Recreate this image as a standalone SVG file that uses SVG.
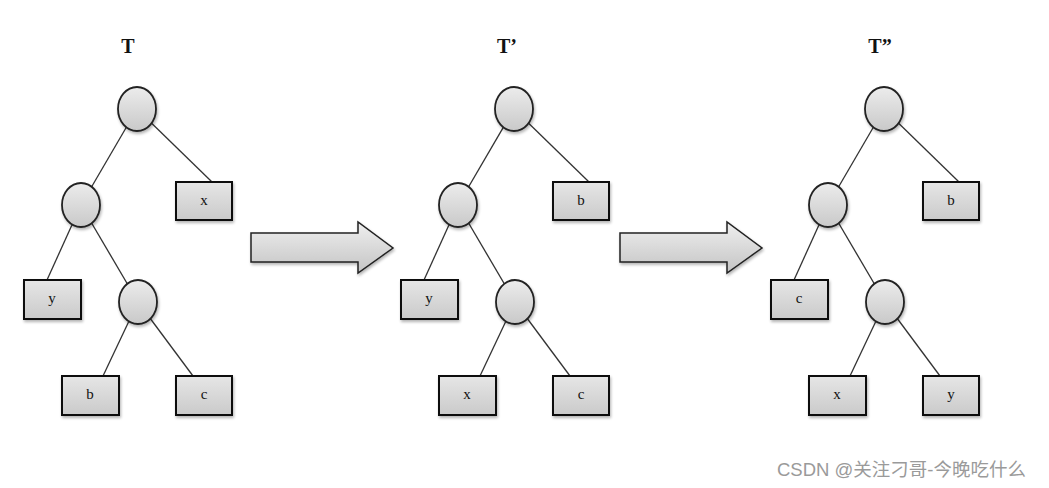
<svg xmlns="http://www.w3.org/2000/svg" width="1049" height="488" viewBox="0 0 1049 488">
<defs>
<linearGradient id="gc" x1="0" y1="0" x2="0" y2="1">
<stop offset="0" stop-color="#ececec"/><stop offset="1" stop-color="#c9c9c9"/>
</linearGradient>
<linearGradient id="gb" x1="0" y1="0" x2="0" y2="1">
<stop offset="0" stop-color="#e6e6e6"/><stop offset="1" stop-color="#cacaca"/>
</linearGradient>
<linearGradient id="ga" x1="0" y1="0" x2="0" y2="1">
<stop offset="0" stop-color="#efefef"/><stop offset="1" stop-color="#c4c4c4"/>
</linearGradient>
<filter id="sh" x="-20%" y="-20%" width="150%" height="150%">
<feGaussianBlur in="SourceAlpha" stdDeviation="1.5"/><feOffset dx="1" dy="2" result="b"/>
<feComponentTransfer><feFuncA type="linear" slope="0.3"/></feComponentTransfer>
<feMerge><feMergeNode/><feMergeNode in="SourceGraphic"/></feMerge>
</filter>
</defs>
<style>
.e{stroke:#333;stroke-width:1.3;fill:none}
.c{fill:url(#gc);stroke:#222;stroke-width:1.8;filter:url(#sh)}
.b{fill:url(#gb);stroke:#111;stroke-width:2;filter:url(#sh)}
.l{font-family:"Liberation Serif",serif;font-size:15px;fill:#111;text-anchor:middle}
.t{font-family:"Liberation Serif",serif;font-size:20px;font-weight:bold;fill:#111;text-anchor:middle}
.a{fill:url(#ga);stroke:#222;stroke-width:1.5;filter:url(#sh)}
.w{font-family:"Liberation Sans","Noto Sans CJK SC",sans-serif;font-size:18.5px;fill:#9a9a9a}
</style>
<g id="titles">
<text class="t" x="128" y="53">T</text>
<text class="t" x="507" y="53">T’</text>
<text class="t" x="880" y="53">T”</text>
</g>
<g id="connectors">
<g transform="translate(0,0)">
<line class="e" x1="137" y1="109" x2="81" y2="205"/><line class="e" x1="137" y1="109" x2="212" y2="182"/>
<line class="e" x1="81" y1="205" x2="47" y2="280"/><line class="e" x1="81" y1="205" x2="138" y2="302"/>
<line class="e" x1="138" y1="302" x2="103" y2="376"/><line class="e" x1="138" y1="302" x2="193" y2="376"/>
</g>
<g transform="translate(377,0)">
<line class="e" x1="137" y1="109" x2="81" y2="205"/><line class="e" x1="137" y1="109" x2="212" y2="182"/>
<line class="e" x1="81" y1="205" x2="47" y2="280"/><line class="e" x1="81" y1="205" x2="138" y2="302"/>
<line class="e" x1="138" y1="302" x2="103" y2="376"/><line class="e" x1="138" y1="302" x2="193" y2="376"/>
</g>
<g transform="translate(747,0)">
<line class="e" x1="137" y1="109" x2="81" y2="205"/><line class="e" x1="137" y1="109" x2="212" y2="182"/>
<line class="e" x1="81" y1="205" x2="47" y2="280"/><line class="e" x1="81" y1="205" x2="138" y2="302"/>
<line class="e" x1="138" y1="302" x2="103" y2="376"/><line class="e" x1="138" y1="302" x2="193" y2="376"/>
</g>
</g>
<g id="T-root"><ellipse class="c" cx="137" cy="109" rx="19" ry="22"/></g>
<g id="T-n1"><ellipse class="c" cx="81" cy="205" rx="19" ry="22"/></g>
<g id="T-n2"><ellipse class="c" cx="138" cy="302" rx="19" ry="22"/></g>
<g id="T-x"><rect class="b" x="176" y="182" width="56" height="38"/><text class="l" x="204" y="205">x</text></g>
<g id="T-y"><rect class="b" x="24" y="280" width="57" height="39"/><text class="l" x="52" y="303">y</text></g>
<g id="T-b"><rect class="b" x="62" y="376" width="57" height="39"/><text class="l" x="90" y="399">b</text></g>
<g id="T-c"><rect class="b" x="176" y="376" width="56" height="39"/><text class="l" x="204" y="399">c</text></g>

<g id="T1-root"><ellipse class="c" cx="514" cy="109" rx="19" ry="22"/></g>
<g id="T1-n1"><ellipse class="c" cx="458" cy="205" rx="19" ry="22"/></g>
<g id="T1-n2"><ellipse class="c" cx="515" cy="302" rx="19" ry="22"/></g>
<g id="T1-b"><rect class="b" x="553" y="182" width="56" height="38"/><text class="l" x="581" y="205">b</text></g>
<g id="T1-y"><rect class="b" x="401" y="280" width="57" height="39"/><text class="l" x="429" y="303">y</text></g>
<g id="T1-x"><rect class="b" x="439" y="376" width="57" height="39"/><text class="l" x="467" y="399">x</text></g>
<g id="T1-c"><rect class="b" x="553" y="376" width="56" height="39"/><text class="l" x="581" y="399">c</text></g>

<g id="T2-root"><ellipse class="c" cx="884" cy="109" rx="19" ry="22"/></g>
<g id="T2-n1"><ellipse class="c" cx="828" cy="205" rx="19" ry="22"/></g>
<g id="T2-n2"><ellipse class="c" cx="885" cy="302" rx="19" ry="22"/></g>
<g id="T2-b"><rect class="b" x="923" y="182" width="56" height="38"/><text class="l" x="951" y="205">b</text></g>
<g id="T2-c"><rect class="b" x="771" y="280" width="57" height="39"/><text class="l" x="799" y="303">c</text></g>
<g id="T2-x"><rect class="b" x="809" y="376" width="57" height="39"/><text class="l" x="837" y="399">x</text></g>
<g id="T2-y"><rect class="b" x="923" y="376" width="56" height="39"/><text class="l" x="951" y="399">y</text></g>

<g id="arrow1"><path class="a" d="M251 233 H358 V222 L393 248 L358 273 V262 H251 Z"/></g>
<g id="arrow2"><path class="a" d="M620 233 H727 V222 L762 248 L727 273 V262 H620 Z"/></g>
<g id="watermark"><text class="w" x="777" y="476">CSDN @关注刁哥-今晚吃什么</text></g>
</svg>
